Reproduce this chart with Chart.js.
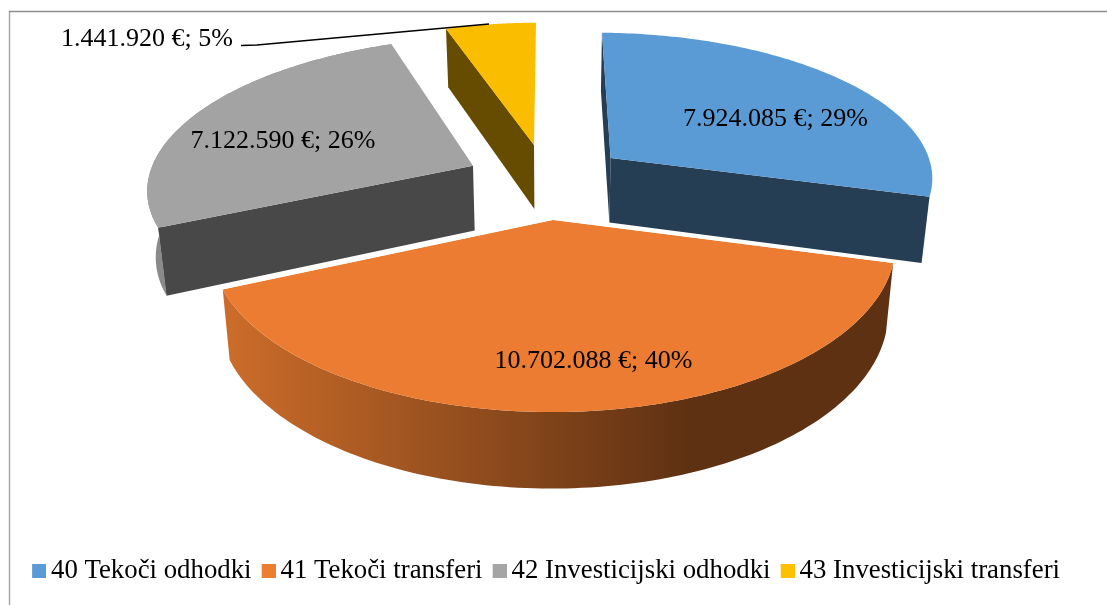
<!DOCTYPE html>
<html>
<head>
<meta charset="utf-8">
<style>html,body{margin:0;padding:0;background:#fff}canvas{display:block}</style>
<script src="https://cdn.jsdelivr.net/npm/chart.js@4"></script>
</head>
<body>
<canvas id="c" width="1107" height="605"></canvas>
<script>
const categories = ['40 Tekoči odhodki', '41 Tekoči transferi', '42 Investicijski odhodki', '43 Investicijski transferi'];
const amounts = [7924085, 10702088, 7122590, 1441920];
const percentLabels = ['29%', '40%', '26%', '5%'];
const topColors = ['#5b9bd5', '#eb7c31', '#a3a3a3', '#fbbd00'];
const legendColors = ['#5b9bd5', '#ed7d31', '#a5a5a5', '#ffc000'];
const cutWallColors = ['#253e54', null, '#484848', '#664c00'];
const cutEdges = [['start', 'end'], [], ['start'], ['start']];
const rimWallColors = [null, 'gradient', '#8a8a8a', null];

// Perspective view of each exploded slice (apex, linear terms, perspective term)
const sliceViews = [
  {ax: 610.6, ay: 158, a: 319, b: 9.5, c: 2.4, d: 137.8, p: 0.1},
  {ax: 553, ay: 220, a: 338.4, b: 0, c: -0.6, d: 163.3, p: 0.15},
  {ax: 473, ay: 165.7, a: 322, b: -17, c: -3.6, d: 142, p: 0.1},
  {ax: 534, ay: 145, a: 300.9, b: -2.2, c: 0, d: 134.5, p: 0.1}
];
const labelSpots = [[775.5, 119], [593.5, 361], [283, 141], [147, 39.5]];
const leaderPath = [[241, 45.5], [257, 45], [489, 24]];
const serif = '"Liberation Serif", "Times New Roman", serif';
const fontPx = 26;
const legendPx = 26.8;

const formatEuro = v => String(v).replace(/\B(?=(\d{3})+$)/g, '.') + ' €';

function legendSwatch(color) {
  const cv = document.createElement('canvas');
  cv.width = 18;
  cv.height = 14;
  const g = cv.getContext('2d');
  g.fillStyle = color;
  g.fillRect(4, 0, 14, 14);
  return cv;
}
const legendSwatches = legendColors.map(legendSwatch);

function project(view, angle) {
  const u = Math.cos(angle), v = Math.sin(angle), w = 1 - view.p * v;
  return [view.ax + (view.a * u + view.b * v) / w, view.ay + (view.c * u + view.d * v) / w];
}
function apex(view) { return [view.ax, view.ay]; }
function drop(pt) {
  const depth = 70 + (pt[1] - 275) * 0.047;
  return [pt[0] + (553 - pt[0]) * 0.021, pt[1] + depth];
}
function fillPoly(ctx, pts, fill) {
  ctx.beginPath();
  pts.forEach((q, i) => i ? ctx.lineTo(q[0], q[1]) : ctx.moveTo(q[0], q[1]));
  ctx.closePath();
  ctx.fillStyle = fill;
  ctx.fill();
}

const view3d = {
  id: 'view3d',
  beforeDraw(chart) {
    const ctx = chart.ctx;
    ctx.save();
    ctx.lineWidth = 1.5;
    ctx.strokeStyle = '#aaaaaa';
    ctx.beginPath();
    ctx.moveTo(9.5, 605);
    ctx.lineTo(9.5, 11);
    ctx.stroke();
    ctx.strokeStyle = '#8e8e8e';
    ctx.beginPath();
    ctx.moveTo(9, 11.5);
    ctx.lineTo(1107, 11.5);
    ctx.stroke();
    ctx.restore();
  },
  beforeDatasetDraw(chart) {
    const ctx = chart.ctx;
    const arcs = chart.getDatasetMeta(0).data;
    ctx.save();
    [3, 2, 0, 1].forEach(i => {
      const arc = arcs[i], view = sliceViews[i];
      const s = arc.startAngle, e = arc.endAngle;
      const rim = [];
      for (let n = 0; n <= 120; n++) rim.push(project(view, s + (e - s) * n / 120));
      // outer rim wall
      if (rimWallColors[i]) {
        let rimFill = rimWallColors[i];
        if (rimFill === 'gradient') {
          rimFill = ctx.createLinearGradient(229, 0, 690, 0);
          rimFill.addColorStop(0, '#cb6c2a');
          rimFill.addColorStop(1, '#5e3112');
        }
        fillPoly(ctx, rim.concat(rim.map(drop).reverse()), rimFill);
      }
      // flat cut walls
      cutEdges[i].forEach(edge => {
        const q = edge === 'start' ? rim[0] : rim[rim.length - 1];
        fillPoly(ctx, [apex(view), q, drop(q), drop(apex(view))], cutWallColors[i]);
      });
      // top face
      fillPoly(ctx, [apex(view)].concat(rim), topColors[i]);
      if (i === 1) {
        ctx.strokeStyle = '#ffffff';
        ctx.lineWidth = 1.2;
        ctx.beginPath();
        ctx.moveTo(rim[0][0], rim[0][1] - 0.8);
        ctx.lineTo(view.ax, view.ay - 0.8);
        ctx.lineTo(rim[120][0], rim[120][1] - 0.8);
        ctx.stroke();
      }
    });
    ctx.restore();
    return false;
  },
  afterDatasetsDraw(chart) {
    const ctx = chart.ctx;
    ctx.save();
    ctx.strokeStyle = '#000';
    ctx.lineWidth = 1.3;
    ctx.beginPath();
    leaderPath.forEach((q, i) => i ? ctx.lineTo(q[0], q[1]) : ctx.moveTo(q[0], q[1]));
    ctx.stroke();
    ctx.fillStyle = '#000';
    ctx.font = fontPx + 'px ' + serif;
    ctx.textAlign = 'center';
    ctx.textBaseline = 'middle';
    amounts.forEach((v, i) => {
      ctx.fillText(formatEuro(v) + '; ' + percentLabels[i], labelSpots[i][0], labelSpots[i][1]);
    });
    ctx.restore();
  }
};

new Chart(document.getElementById('c'), {
  type: 'pie',
  data: {
    labels: categories,
    datasets: [{data: amounts, backgroundColor: legendColors, borderWidth: 0}]
  },
  options: {
    responsive: false,
    animation: false,
    layout: {padding: {right: 10.4, bottom: 11}},
    plugins: {
      tooltip: {enabled: false},
      title: {display: false},
      legend: {
        display: true,
        position: 'bottom',
        labels: {
          usePointStyle: true,
          boxWidth: 1,
          boxHeight: 14,
          padding: 14.6,
          color: '#000',
          font: {family: serif, size: legendPx},
          generateLabels(chart) {
            return Chart.overrides.pie.plugins.legend.labels.generateLabels(chart).map((item, i) => {
              item.pointStyle = legendSwatches[i];
              return item;
            });
          }
        }
      }
    }
  },
  plugins: [view3d]
});
</script>
</body>
</html>
